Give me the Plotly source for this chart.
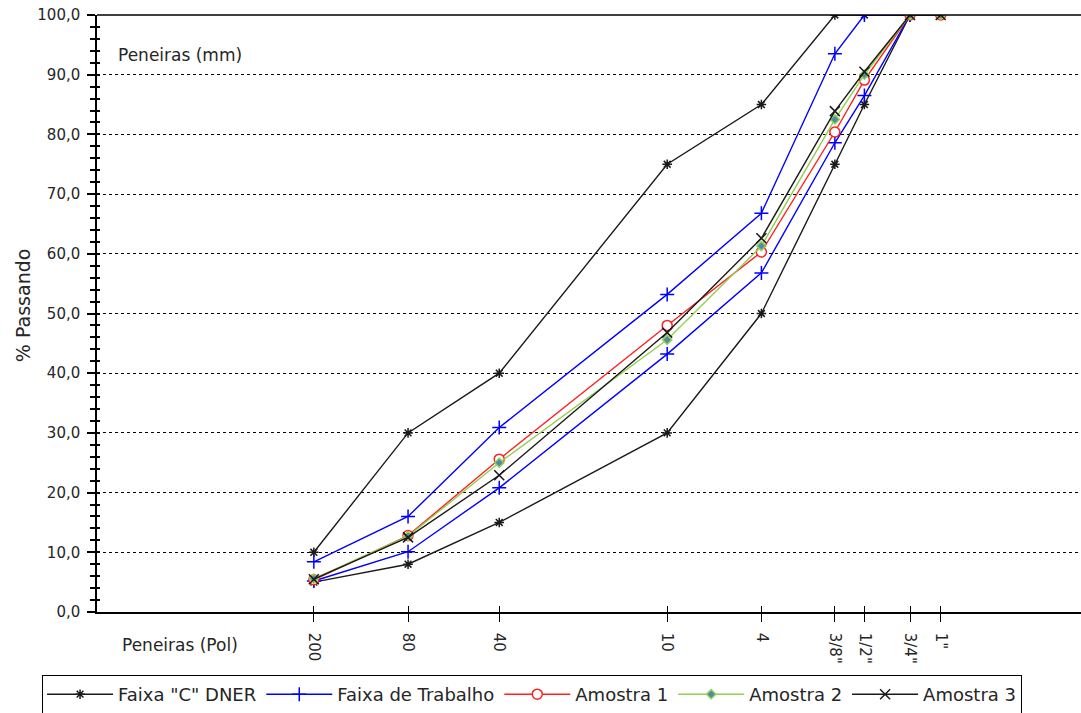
import math
import plotly.graph_objects as go

# Sieve data
sieve_labels = ["200", "80", "40", "10", "4", "3/8\"", "1/2\"", "3/4\"", "1\""]
sieve_mm = [0.075, 0.18, 0.42, 2.0, 4.8, 9.5, 12.5, 19.1, 25.4]

# Faixa "C" DNER (upper / lower limits) up to 3/4"
faixa_c_sup = [10, 30, 40, 75, 85, 100, 100, 100]
faixa_c_inf = [5, 8, 15, 30, 50, 75, 85, 100]
# Faixa de Trabalho
trab_sup = [8.4, 16.0, 30.9, 53.2, 66.8, 93.5, 100, 100]
trab_inf = [5.2, 10.1, 20.8, 43.2, 56.8, 78.6, 86.5, 100]
# Samples (include 1")
amostra1 = [5.4, 12.8, 25.6, 48.0, 60.3, 80.4, 89.1, 100, 100]
amostra2 = [5.6, 12.7, 25.0, 45.6, 61.3, 82.5, 90.0, 100, 100]
amostra3 = [5.5, 12.5, 22.9, 46.8, 62.6, 83.9, 90.5, 100, 100]

FONT = "DejaVu Sans"
TXT = "#262626"
BLACK = "#1a1a1a"

fig = go.Figure()

def add(x, y, name, color, symbol, msize, mcolor, mline, group, show, lw=1.4):
    fig.add_trace(go.Scatter(
        x=x, y=y, mode="lines+markers", name=name, legendgroup=group, showlegend=show,
        line=dict(color=color, width=lw),
        marker=dict(symbol=symbol, size=msize, color=mcolor, line=dict(color=mline, width=1.5)),
    ))

n = len(faixa_c_sup)
add(sieve_mm[:n], faixa_c_sup, 'Faixa "C" DNER', BLACK, "asterisk-open", 8, BLACK, BLACK, "c", True)
add(sieve_mm[:n], faixa_c_inf, 'Faixa "C" DNER', BLACK, "asterisk-open", 8, BLACK, BLACK, "c", False)
add(sieve_mm[:n], trab_sup, "Faixa de Trabalho", "#0000FF", "cross-thin-open", 10, "#0000FF", "#0000FF", "t", True)
add(sieve_mm[:n], trab_inf, "Faixa de Trabalho", "#0000FF", "cross-thin-open", 10, "#0000FF", "#0000FF", "t", False)
add(sieve_mm, amostra1, "Amostra 1", "#FF2020", "circle", 10, "white", "#FF2020", "a1", True)
add(sieve_mm, amostra2, "Amostra 2", "#92D050", "diamond", 7, "#4F8AB0", "#92D050", "a2", True)
add(sieve_mm, amostra3, "Amostra 3", BLACK, "x-thin-open", 10, BLACK, BLACK, "a3", True)

# empty trace to materialize overlay axes (inside ticks)
fig.add_trace(go.Scatter(x=[], y=[], xaxis="x2", yaxis="y2", showlegend=False, hoverinfo="skip"))

xr = [-2, 1.971]
fig.update_layout(
    width=1081, height=713,
    margin=dict(l=97, r=0, t=15, b=101, autoexpand=False),
    paper_bgcolor="white", plot_bgcolor="white",
    separators=",.",
    font=dict(family=FONT, size=15, color=TXT),
    xaxis=dict(
        type="log", range=xr, tickmode="array", tickvals=sieve_mm, ticktext=sieve_labels,
        tickangle=90, ticks="outside", ticklen=8, tickcolor="black", tickwidth=1,
        showline=True, linecolor="black", linewidth=1.5, showgrid=False, zeroline=False,
        tickfont=dict(family=FONT, size=15, color=TXT), automargin=False,
        ticklabelstandoff=8,
    ),
    yaxis=dict(
        range=[0, 100], dtick=10, tickformat=".1f", ticks="outside", ticklen=8,
        tickcolor="black", tickwidth=1.5, showline=True, linecolor="black", linewidth=1.5,
        showgrid=True, gridcolor="black", griddash="dot", gridwidth=1, zeroline=False,
        minor=dict(dtick=2, ticks="outside", ticklen=5, tickcolor="black", tickwidth=1.5, showgrid=False),
        tickfont=dict(family=FONT, size=15, color=TXT), automargin=False,
        ticklabelstandoff=4,
    ),
    xaxis2=dict(
        type="log", range=xr, overlaying="x", anchor="y2", side="bottom",
        tickmode="array", tickvals=sieve_mm, ticks="inside", ticklen=6, tickcolor="black",
        showticklabels=False, showgrid=False, zeroline=False, showline=False, automargin=False,
    ),
    yaxis2=dict(
        range=[0, 100], overlaying="y", anchor="x2", side="left", dtick=10,
        ticks="inside", ticklen=3, tickcolor="black", tickwidth=1.5,
        minor=dict(dtick=2, ticks="inside", ticklen=3, tickcolor="black", tickwidth=1.5),
        showticklabels=False, showgrid=False, zeroline=False, showline=False, automargin=False,
    ),
    legend=dict(
        orientation="h", xref="container", x=0.0389, xanchor="left", y=-0.1055, yanchor="top",
        bordercolor="black", borderwidth=1, bgcolor="white",
        font=dict(family=FONT, size=18, color=TXT), itemwidth=66,
    ),
    shapes=[dict(type="line", xref="paper", yref="paper", x0=0, x1=1, y0=1, y1=1,
                 line=dict(color="black", width=1.5))],
    annotations=[
        dict(text="% Passando", xref="paper", yref="paper", x=-0.0752, y=0.514,
             xanchor="center", yanchor="middle", textangle=-90, showarrow=False,
             font=dict(family=FONT, size=19, color=TXT)),
        dict(text="Peneiras (mm)", xref="paper", yref="paper", x=0.019, y=0.933,
             xanchor="left", yanchor="middle", showarrow=False,
             font=dict(family=FONT, size=17, color=TXT)),
        dict(text="Peneiras (Pol)", xref="paper", yref="paper", x=0.023, y=-0.055,
             xanchor="left", yanchor="middle", showarrow=False,
             font=dict(family=FONT, size=17, color=TXT)),
    ],
)

fig.write_html("out.html", config={"displayModeBar": False},
               post_script="document.body.style.margin='0px';document.body.style.overflow='hidden';")
